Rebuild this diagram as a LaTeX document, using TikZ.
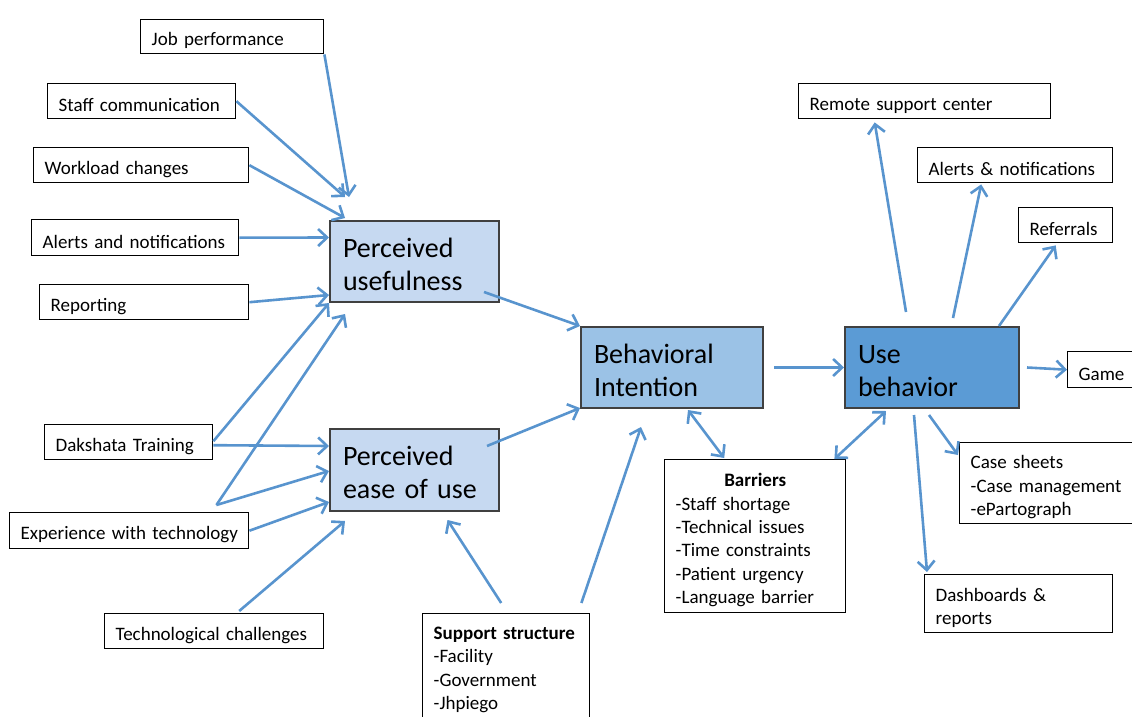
\documentclass[tikz,border=0pt]{standalone}
\usepackage{fontspec}
\setmainfont{Carlito}
\usepackage{tikz}
\usetikzlibrary{positioning,arrows.meta,calc}
\definecolor{arrowblue}{RGB}{88,148,206}
\definecolor{lightblue}{RGB}{198,217,241}
\definecolor{midblue}{RGB}{155,194,230}
\definecolor{darkblue}{RGB}{91,155,213}
\definecolor{boxedge}{RGB}{64,64,64}

\begin{document}
\begin{tikzpicture}[
  x=1pt, y=-1pt,
  font=\fontsize{19}{23.3}\selectfont,
  box_small/.style 2 args={draw=black, line width=1.4pt, fill=white, anchor=north west,
    inner xsep=11pt, inner ysep=0pt, align=left, text width=#1-22pt, minimum height=#2,
    text height=21pt},
  box_big/.style 2 args={draw=boxedge, line width=2pt, anchor=north west,
    inner xsep=13pt, inner ysep=0pt, align=left, text width=#1-26pt, minimum height=#2,
    text height=25pt, font=\fontsize{28}{33}\selectfont},
  arr/.style={draw=arrowblue, line width=2.6pt, -{Straight Barb[length=9pt,width=17pt]}},
  arr_both/.style={arr, {Straight Barb[length=9pt,width=17pt]}-{Straight Barb[length=9pt,width=17pt]}}
]
\useasboundingbox (0,0) rectangle (1132,717);

% --- Inputs to perceived usefulness ---
\node[box_small={183pt}{34pt}] (job) at (140,19) {Job performance};
\node[box_small={188pt}{35pt}] (staff) at (47,83) {Staff communication};
\node[box_small={215pt}{35pt}] (work) at (33,147) {Workload changes};
\node[box_small={207pt}{36pt}] (alerts) at (31,219) {Alerts and notifications};
\node[box_small={209pt}{35pt}] (report) at (39,284) {Reporting};

% --- Inputs to perceived ease of use ---
\node[box_small={168pt}{35pt}] (dak) at (44,424) {Dakshata Training};
\node[box_small={239pt}{36pt}] (exp) at (9,512) {\mbox{Experience with technology}};
\node[box_small={219pt}{35pt}] (tech) at (104,613) {Technological challenges};
\node[box_small={167pt}{110pt}, text height=15pt] (sup) at (422,613)
  {\textbf{Support structure}\\-Facility\\-Government\\-Jhpiego};
\coordinate (expo) at ($(exp.north east)+(-33,-7)$);

% --- Core model ---
\node[box_big={169pt}{81pt}, fill=lightblue] (pu) at (329,220) {Perceived\\usefulness};
\node[box_big={169pt}{82pt}, fill=lightblue] (peou) at (329,428) {Perceived\\ease of use};
\node[box_big={182pt}{81pt}, fill=midblue] (bi) at (580,326) {Behavioral\\Intention};
\node[box_big={174pt}{81pt}, fill=darkblue] (use) at (844,326) {Use\\behavior};
\node[box_small={181pt}{153pt}] (bar) at (664,459)
  {\makebox[\linewidth]{\textbf{Barriers}}\\-Staff shortage\\-Technical issues\\-Time constraints\\-Patient urgency\\-Language barrier};

% --- Outputs of use behavior ---
\node[box_small={252pt}{35pt}] (remote) at (798,83) {Remote support center};
\node[box_small={195pt}{35pt}] (alertsb) at (917,147) {Alerts \& notifications};
\node[box_small={94pt}{35pt}] (ref) at (1018,207) {Referrals};
\node[box_small={80pt}{36pt}] (game) at (1067,351) {Game};
\node[box_small={190pt}{81pt}] (case) at (959,442) {Case sheets\\-Case management\\-ePartograph};
\node[box_small={188pt}{58pt}] (dash) at (924,574) {Dashboards \&\\reports};

% --- Arrows ---
\draw[arr] (job.south east) -- ($(pu.north west)+(20,-23)$);
\draw[arr] (staff.east) -- ($(pu.north west)+(16,-23)$);
\draw[arr] (work.east) -- ($(pu.north west)+(16,-2)$);
\draw[arr] (alerts.east) -- ($(pu.west)+(0,-24)$);
\draw[arr] (report.east) -- ($(pu.south west)+(0,-8)$);
\draw[arr] ($(dak.east)+(0,-1)$) -- (pu.south west);
\draw[arr] (expo) -- ($(pu.south west)+(16,11)$);
\draw[arr] ($(dak.east)+(0,3)$) -- ($(peou.west)+(0,-24)$);
\draw[arr] (expo) -- ($(peou.west)+(0,1)$);
\draw[arr] (exp.east) -- ($(peou.south west)+(0,-10)$);
\draw[arr] ($(tech.north)+(25,-2)$) -- ($(peou.south west)+(16,9)$);
\draw[arr] ($(pu.south east)+(-16,-11)$) -- (bi.north west);
\draw[arr] ($(peou.east)+(-13,-24)$) -- ($(bi.south west)+(0,-1)$);
\draw[arr] ($(sup.north)+(-5,-10)$) -- ($(peou.south)+(33,8)$);
\draw[arr] ($(sup.north east)+(-9,-10)$) -- ($(bi.south)+(-31,18)$);
\draw[arr_both] ($(bi.south)+(16,1)$) -- ($(bar.north)+(-31,-1)$);
\draw[arr] ($(bi.east)+(10,0)$) -- (use.west);
\draw[arr_both] ($(use.south)+(-46,2)$) -- ($(bar.north east)+(-12,0)$);
\draw[arr] ($(use.north)+(-26,-14)$) -- ($(remote.south)+(-50,3)$);
\draw[arr] ($(use.north)+(21,-8)$) -- ($(alertsb.south)+(-34,1)$);
\draw[arr] ($(use.north east)+(-21,0)$) -- ($(ref.south)+(-10,2)$);
\draw[arr] ($(use.east)+(7,0)$) -- (game.west);
\draw[arr] ($(use.south)+(-3,6)$) -- ($(case.north west)+(-1,13)$);
\draw[arr] ($(use.south)+(-18,6)$) -- ($(dash.north west)+(3,-2)$);

\end{tikzpicture}
\end{document}
